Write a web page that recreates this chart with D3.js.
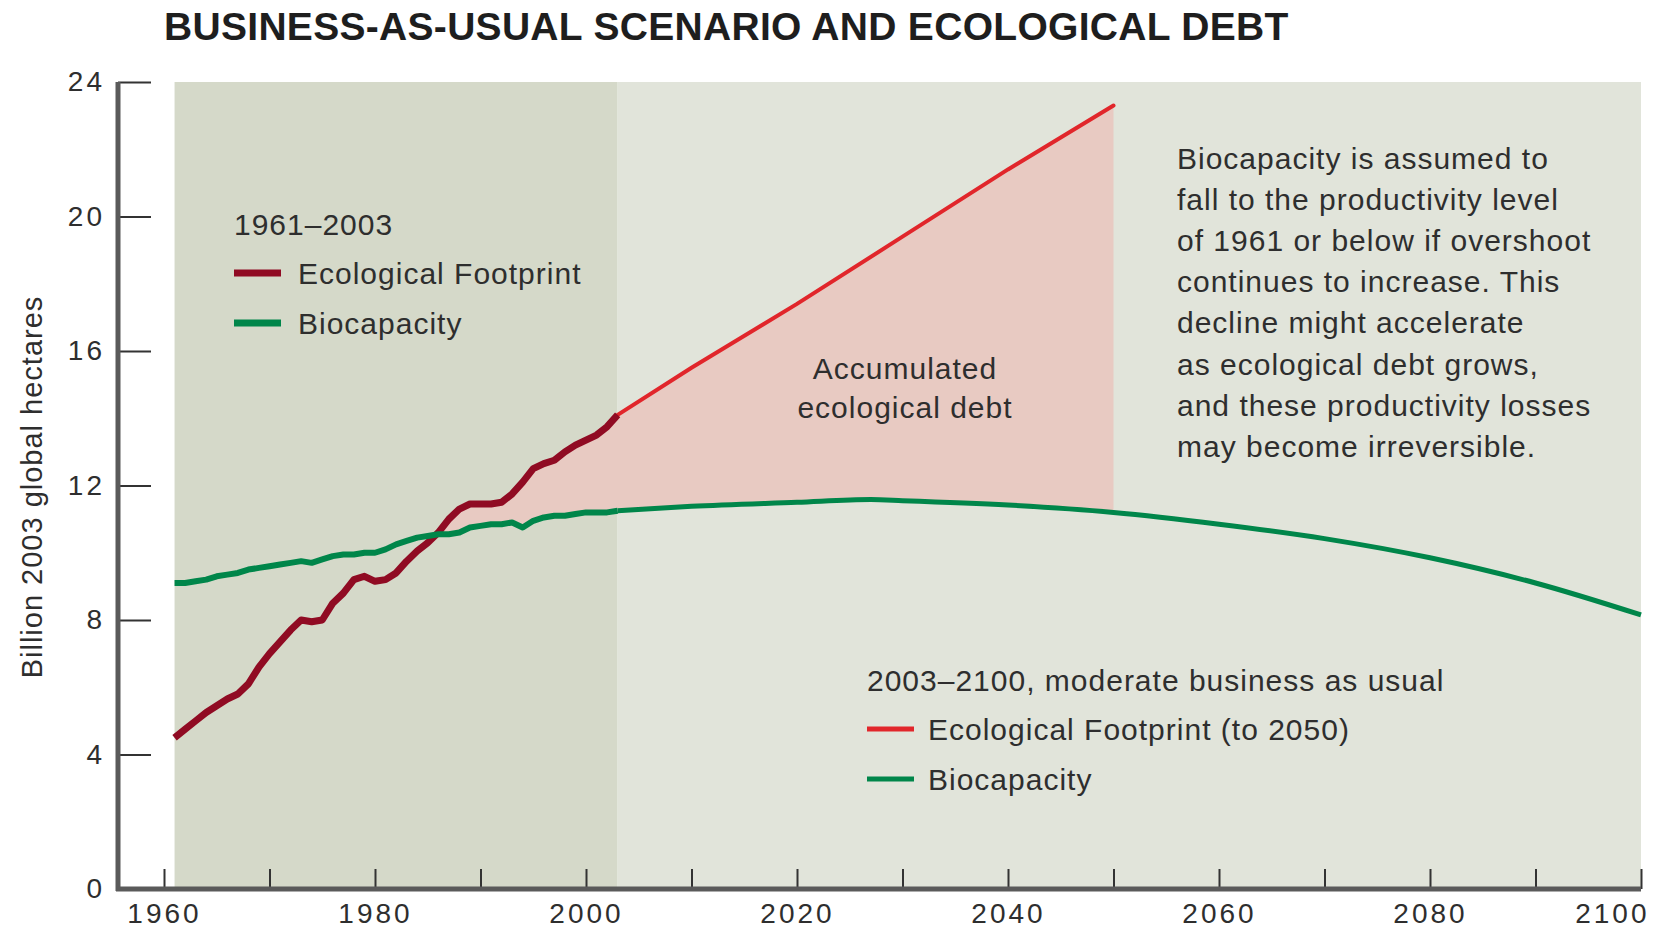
<!DOCTYPE html>
<html>
<head>
<meta charset="utf-8">
<script src="https://cdn.jsdelivr.net/npm/d3@7"></script>
<style>
	html, body { margin: 0; padding: 0; background: #fff; }
	svg { display: block; font-family: 'Liberation Sans', Arial, sans-serif; }
</style>
</head>
<body>
<svg id="chart" width="1654" height="930"></svg>
<script>
// historical data, billion 2003 global hectares
const histYears = [1961, 1962, 1963, 1964, 1965, 1966, 1967, 1968, 1969, 1970,
	1971, 1972, 1973, 1974, 1975, 1976, 1977, 1978, 1979, 1980,
	1981, 1982, 1983, 1984, 1985, 1986, 1987, 1988, 1989, 1990,
	1991, 1992, 1993, 1994, 1995, 1996, 1997, 1998, 1999, 2000,
	2001, 2002, 2003];
const histFootprint = [4.5, 4.75, 5.0, 5.25, 5.45, 5.65, 5.8, 6.1, 6.6, 7.0,
	7.35, 7.7, 8.0, 7.95, 8.0, 8.5, 8.8, 9.2, 9.3, 9.15,
	9.2, 9.4, 9.75, 10.05, 10.3, 10.6, 11.0, 11.3, 11.45, 11.45,
	11.45, 11.5, 11.75, 12.1, 12.5, 12.65, 12.75, 13.0, 13.2, 13.35,
	13.5, 13.75, 14.1];
const histBiocapacity = [9.1, 9.1, 9.15, 9.2, 9.3, 9.35, 9.4, 9.5, 9.55, 9.6,
	9.65, 9.7, 9.75, 9.7, 9.8, 9.9, 9.95, 9.95, 10.0, 10.0,
	10.1, 10.25, 10.35, 10.45, 10.5, 10.55, 10.55, 10.6, 10.75, 10.8,
	10.85, 10.85, 10.9, 10.75, 10.95, 11.05, 11.1, 11.1, 11.15, 11.2,
	11.2, 11.2, 11.25];

// business-as-usual projection
const projFpYears = [2003, 2010, 2020, 2030, 2040, 2050];
const projFootprint = [14.1, 15.5, 17.4, 19.4, 21.4, 23.3];
const projBioYears = [2003, 2010, 2020, 2027, 2030, 2040, 2050, 2060, 2070, 2080, 2090, 2100];
const projBiocapacity = [11.25, 11.38, 11.5, 11.58, 11.55, 11.42, 11.2, 10.85, 10.42, 9.85, 9.1, 8.15];

const xTicks = [1960, 1970, 1980, 1990, 2000, 2010, 2020, 2030, 2040, 2050, 2060, 2070, 2080, 2090, 2100];
const xLabels = [1960, 1980, 2000, 2020, 2040, 2060, 2080, 2100];
const yTicks = [0, 4, 8, 12, 16, 20, 24];

const title = 'BUSINESS-AS-USUAL SCENARIO AND ECOLOGICAL DEBT';
const yTitle = 'Billion 2003 global hectares';
const note = [
	'Biocapacity is assumed to',
	'fall to the productivity level',
	'of 1961 or below if overshoot',
	'continues to increase. This',
	'decline might accelerate',
	'as ecological debt grows,',
	'and these productivity losses',
	'may become irreversible.'
];

const colors = {
	bgPast: '#d5d9c9',
	bgFuture: '#e1e4da',
	debt: '#e8cac2',
	fpPast: '#900b23',
	fpFuture: '#e1262b',
	bio: '#00864a',
	axis: '#5a5a5a',
	text: '#2e2e2e'
};

const svg = d3.select('#chart');

const x = d3.scaleLinear().domain([1960, 2100]).range([164, 1641]);
const y = d3.scaleLinear().domain([0, 24]).range([889, 82]);

const zip = (xs, ys) => xs.map((d, i) => ({x: d, y: ys[i]}));
const fpPast = zip(histYears, histFootprint);
const bioPast = zip(histYears, histBiocapacity);
const fpFuture = zip(projFpYears, projFootprint);
const bioFuture = zip(projBioYears, projBiocapacity);

// backgrounds
svg.append('rect')
	.attr('x', x(1961)).attr('y', y(24))
	.attr('width', x(2003) - x(1961)).attr('height', y(0) - y(24))
	.attr('fill', colors.bgPast);
svg.append('rect')
	.attr('x', x(2003)).attr('y', y(24))
	.attr('width', x(2100) - x(2003)).attr('height', y(0) - y(24))
	.attr('fill', colors.bgFuture);

// debt area: between footprint and biocapacity where footprint is above
const fpAll = fpPast.concat(fpFuture.slice(1));
const bioAll = bioPast.concat(bioFuture.slice(1));
const lerp = (pts, t) => {
	const i = d3.bisector(d => d.x).right(pts, t);
	if (i <= 0) return pts[0].y;
	if (i >= pts.length) return pts[pts.length - 1].y;
	const a = pts[i - 1], b = pts[i];
	return a.y + (b.y - a.y) * (t - a.x) / (b.x - a.x);
};
const debtXs = Array.from(new Set(fpAll.map(d => d.x).concat(bioAll.map(d => d.x))))
	.filter(t => t >= 1986 && t <= 2050)
	.sort((a, b) => a - b);
const debt = debtXs.map(t => {
	const b = lerp(bioAll, t), f = lerp(fpAll, t);
	return {x: t, lo: b, hi: Math.max(f, b)};
});
svg.append('path')
	.datum(debt)
	.attr('fill', colors.debt)
	.attr('d', d3.area().x(d => x(d.x)).y0(d => y(d.lo)).y1(d => y(d.hi)));

// lines
const line = d3.line().x(d => x(d.x)).y(d => y(d.y));
const smooth = d3.line().x(d => x(d.x)).y(d => y(d.y)).curve(d3.curveMonotoneX);

svg.append('path').datum(bioFuture)
	.attr('fill', 'none').attr('stroke', colors.bio).attr('stroke-width', 5)
	.attr('d', smooth);
svg.append('path').datum(fpFuture)
	.attr('fill', 'none').attr('stroke', colors.fpFuture).attr('stroke-width', 4)
	.attr('stroke-linecap', 'round')
	.attr('d', line);
svg.append('path').datum(fpPast)
	.attr('fill', 'none').attr('stroke', colors.fpPast).attr('stroke-width', 7)
	.attr('stroke-linejoin', 'round')
	.attr('d', line);
svg.append('path').datum(bioPast)
	.attr('fill', 'none').attr('stroke', colors.bio).attr('stroke-width', 6)
	.attr('stroke-linejoin', 'round')
	.attr('d', line);

// axes
const yAxis = svg.append('g')
	.attr('transform', `translate(118, 0)`)
	.call(d3.axisLeft(y).tickValues(yTicks).tickSizeInner(-33).tickSizeOuter(0).tickPadding(13));
const xAxis = svg.append('g')
	.attr('transform', `translate(0, ${y(0)})`)
	.call(d3.axisBottom(x).tickValues(xTicks).tickSizeInner(-20).tickSizeOuter(0).tickPadding(14)
		.tickFormat(d => xLabels.includes(d) ? d : ''));

[yAxis, xAxis].forEach(g => {
	g.select('.domain').remove();
	g.selectAll('.tick line').attr('stroke', '#333').attr('stroke-width', 2);
	g.selectAll('.tick text')
		.attr('fill', colors.text)
		.attr('font-size', 28)
		.attr('font-family', "'Liberation Sans', Arial, sans-serif")
		.attr('letter-spacing', 3);
});
// last year label sits flush with the right edge
xAxis.selectAll('.tick text')
	.filter(d => d === 2100)
	.attr('text-anchor', 'end')
	.attr('x', 8);

svg.append('line')
	.attr('x1', 118).attr('x2', 118).attr('y1', y(24)).attr('y2', y(0) + 2)
	.attr('stroke', colors.axis).attr('stroke-width', 5);
svg.append('line')
	.attr('x1', 116).attr('x2', x(2100)).attr('y1', y(0)).attr('y2', y(0))
	.attr('stroke', colors.axis).attr('stroke-width', 5);

// title and axis title
svg.append('text')
	.attr('x', 164).attr('y', 40)
	.attr('font-size', 39).attr('font-weight', 'bold')
	.attr('letter-spacing', 0.3)
	.attr('fill', '#1e1e1e')
	.text(title);

svg.append('text')
	.attr('transform', 'translate(42, 487) rotate(-90)')
	.attr('text-anchor', 'middle')
	.attr('font-size', 29).attr('letter-spacing', 1)
	.attr('fill', colors.text)
	.text(yTitle);

// legends
const legend = (gx, gy, header, items) => {
	const g = svg.append('g').attr('transform', `translate(${gx}, ${gy})`);
	g.append('text').attr('x', 0).attr('y', 0)
		.attr('font-size', 30).attr('letter-spacing', 1).attr('fill', colors.text)
		.text(header);
	items.forEach((it, i) => {
		const cy = 38 + i * 50;
		g.append('line')
			.attr('x1', it.sx).attr('x2', it.sx + 47).attr('y1', cy).attr('y2', cy)
			.attr('stroke', it.color).attr('stroke-width', it.w);
		g.append('text').attr('x', it.tx).attr('y', cy + 11)
			.attr('font-size', 30).attr('letter-spacing', 1).attr('fill', colors.text)
			.text(it.label);
	});
};
legend(234, 235, '1961\u20132003', [
	{label: 'Ecological Footprint', color: colors.fpPast, w: 7, sx: 0, tx: 64},
	{label: 'Biocapacity', color: colors.bio, w: 7, sx: 0, tx: 64}
]);
legend(867, 691, '2003\u20132100, moderate business as usual', [
	{label: 'Ecological Footprint (to 2050)', color: colors.fpFuture, w: 5, sx: 0, tx: 61},
	{label: 'Biocapacity', color: colors.bio, w: 5, sx: 0, tx: 61}
]);

// annotations
svg.append('text')
	.attr('text-anchor', 'middle').attr('font-size', 30).attr('letter-spacing', 1)
	.attr('fill', colors.text)
	.selectAll('tspan')
	.data(['Accumulated', 'ecological debt'])
	.enter()
	.append('tspan')
	.attr('x', 905).attr('y', (d, i) => 379 + i * 39)
	.text(d => d);

svg.append('text')
	.attr('font-size', 30).attr('letter-spacing', 1)
	.attr('fill', colors.text)
	.selectAll('tspan')
	.data(note)
	.enter()
	.append('tspan')
	.attr('x', 1177).attr('y', (d, i) => 169 + i * 41.1)
	.text(d => d);
</script>
</body>
</html>
